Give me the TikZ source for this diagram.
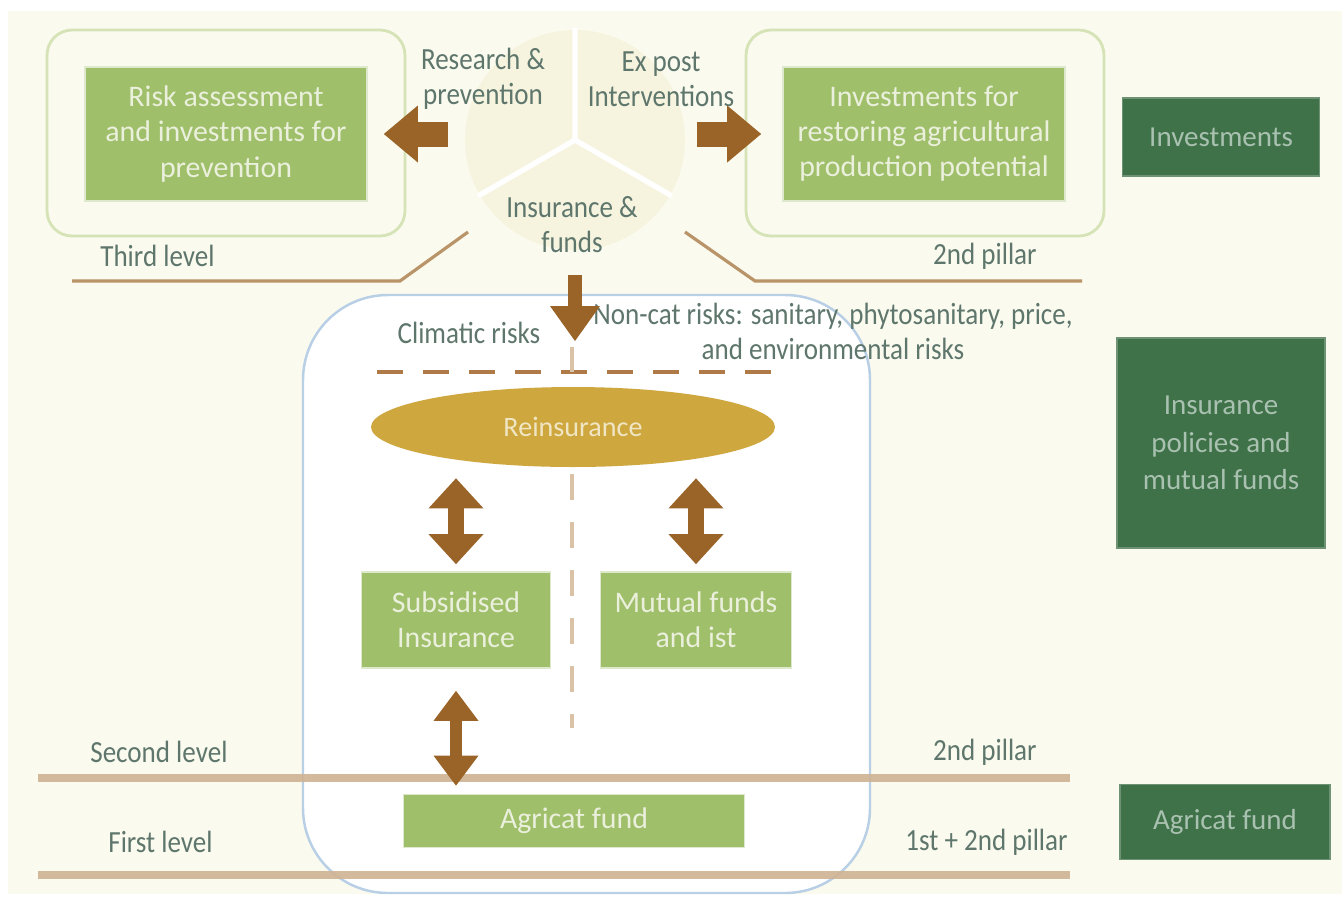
\documentclass[tikz,border=0pt]{standalone}
\usepackage{fontspec}
\setmainfont{Carlito}
\newfontfamily\narrowfont{Carlito}[FakeStretch=0.88]
\usetikzlibrary{shapes.geometric,arrows.meta}

\definecolor{cream}{HTML}{FAFAEE}
\definecolor{piefill}{HTML}{F6F4DF}
\definecolor{framegreen}{HTML}{D5E3B6}
\definecolor{boxgreen}{HTML}{A0BF6A}
\definecolor{bandgreen}{HTML}{DDE8CC}
\definecolor{boxtext}{HTML}{EAF0DC}
\definecolor{darkgreen}{HTML}{3F7248}
\definecolor{darkedge}{HTML}{6E9274}
\definecolor{darktext}{HTML}{A9C1B0}
\definecolor{arrowbrown}{HTML}{9A6428}
\definecolor{tanline}{HTML}{B89468}
\definecolor{levelline}{HTML}{CFB392}
\definecolor{dashbrown}{HTML}{B07A48}
\definecolor{dashlight}{HTML}{D9C2A6}
\definecolor{bluebox}{HTML}{B8CFE6}
\definecolor{gold}{HTML}{CFA73F}
\definecolor{reinstext}{HTML}{F0E6C4}
\definecolor{labeltext}{HTML}{5E766C}

\tikzset{
  frame/.style={draw=framegreen, line width=1.6pt, rounded corners=0.5cm,
    minimum width=7.16cm, minimum height=4.12cm, inner sep=0pt},
  greenbox/.style={fill=boxgreen, draw=bandgreen, line width=1pt, text=boxtext,
    align=center, inner sep=0pt, font=\fontsize{17}{20}\selectfont},
  darkbox/.style={fill=darkgreen, draw=darkedge, line width=1pt, text=darktext,
    align=center, inner sep=0pt, font=\fontsize{16.5}{21.5}\selectfont},
  risktext/.style={text=labeltext, align=center, inner sep=0pt,
    font=\narrowfont\fontsize{17.5}{20}\selectfont},
  leveltext/.style={text=labeltext, inner sep=0pt,
    font=\narrowfont\fontsize{17.5}{20}\selectfont},
  sidearrow/.style={arrowbrown, line width=0.5cm,
    -{Triangle[length=0.68cm,width=1.14cm,line width=0pt]}},
  downarrow/.style={arrowbrown, line width=0.28cm,
    -{Triangle[length=0.7cm,width=1.0cm,line width=0pt]}},
  dblarrow/.style={arrowbrown, line width=0.32cm,
    {Triangle[length=0.6cm,width=1.1cm,line width=0pt]}-{Triangle[length=0.6cm,width=1.1cm,line width=0pt]}},
  smalldblarrow/.style={arrowbrown, line width=0.24cm,
    {Triangle[length=0.6cm,width=0.9cm,line width=0pt]}-{Triangle[length=0.6cm,width=0.9cm,line width=0pt]}},
}

\begin{document}
\begin{tikzpicture}[x=0.02cm,y=-0.02cm]
\useasboundingbox (0,0) rectangle (1342,897);
\fill[white] (0,0) rectangle (1342,897);
\fill[cream] (8,11) rectangle (1342,894);

% three areas
\fill[piefill] (575,140) circle[radius=2.2cm];
\draw[white,line width=3pt] (575,140) -- +(-90:112) (575,140) -- +(150:112) (575,140) -- +(30:112);
\node[risktext] (research) at (483,79) {Research \&\\prevention};
\node[risktext] (expost) at (661,79) {Ex post\\Interventions};
\node[risktext] (funds) at (572,225) {Insurance \&\\funds};
\coordinate (pieleft) at (448,134);
\coordinate (pieright) at (697,134);
\coordinate (piedown) at (575,275);
\coordinate (drop) at (575,341);

% third level
\node[frame] (riskframe) at (226,133) {};
\node[frame] (restoreframe) at (925,133) {};
\node[greenbox, minimum width=5.64cm, minimum height=2.68cm] (riskbox) at (226,134)
  {Risk assessment\\and investments for\\prevention};
\node[greenbox, minimum width=5.64cm, minimum height=2.68cm] (restorebox) at (924,134)
  {Investments for\\restoring agricultural\\production potential};
\draw[sidearrow, shorten >=0.32cm] (pieleft) -- (pieleft -| riskbox.east);
\draw[sidearrow, shorten >=0.42cm] (pieright) -- (pieright -| restorebox.west);

\draw[tanline, line width=1.8pt] (72,281) -- (400,281) -- (468,232);
\draw[tanline, line width=1.8pt] (685,232) -- (755,281) -- (1082,281);
\node[leveltext, anchor=west] (third) at (100,256) {Third level};
\node[leveltext, anchor=east] (pillarthree) at (1037,256) {2nd pillar};

% second and first level
\draw[bluebox, fill=white, line width=1.4pt, rounded corners=1.7cm] (303,295) rectangle (870,893);
\draw[dashbrown, line width=2.2pt, dash pattern=on 0.52cm off 0.4cm] (377,372) -- (775,372);
\draw[dashlight, line width=2.2pt] (572,347) -- (572,372);
\draw[dashlight, line width=2.2pt, dash pattern=on 0.52cm off 0.44cm] (572,474) -- (572,728);
\node[ellipse, fill=gold, minimum width=8.08cm, minimum height=1.6cm, inner sep=0pt,
  text=reinstext, font=\fontsize{16}{20}\selectfont] (reins) at (573,427) {Reinsurance};
\node[risktext] (climatic) at (469,333) {Climatic risks};
\node[risktext] (noncat) at (833,331) {Non-cat risks: sanitary, phytosanitary, price,\\and environmental risks};
\draw[downarrow] (piedown) -- (drop);

\node[greenbox, minimum width=3.78cm, minimum height=1.92cm] (subsid) at (456,620)
  {Subsidised\\Insurance};
\node[greenbox, minimum width=3.82cm, minimum height=1.92cm] (mutual) at (696,620)
  {Mutual funds\\and ist};
\node[greenbox, minimum width=6.82cm, minimum height=1.06cm] (agricat) at (574,821)
  {Agricat fund};

\draw[levelline, opacity=0.9, line width=4.5pt] (38,778) -- (1070,778);
\draw[levelline, opacity=0.9, line width=4.5pt] (38,875) -- (1070,875);
\node[leveltext, anchor=west] (second) at (90,752) {Second level};
\node[leveltext, anchor=east] (pillartwo) at (1037,752) {2nd pillar};
\node[leveltext, anchor=west] (first) at (108,842) {First level};
\node[leveltext, anchor=east] (pillarone) at (1068,842) {1st + 2nd pillar};

\draw[dblarrow, shorten <=0.22cm, shorten >=0.14cm] (reins.south -| subsid.north) -- (subsid.north);
\draw[dblarrow, shorten <=0.22cm, shorten >=0.14cm] (reins.south -| mutual.north) -- (mutual.north);
\draw[smalldblarrow, shorten <=0.44cm, shorten >=0.16cm] (subsid.south) -- (subsid.south |- agricat.north);

% right column
\node[darkbox, minimum width=3.94cm, minimum height=1.56cm] (invest) at (1221,137) {Investments};
\node[darkbox, minimum width=4.16cm, minimum height=4.2cm] (policies) at (1221,443)
  {Insurance\\policies and\\mutual funds};
\node[darkbox, minimum width=4.2cm, minimum height=1.5cm] (agricatside) at (1225,822) {Agricat fund};
\end{tikzpicture}
\end{document}
